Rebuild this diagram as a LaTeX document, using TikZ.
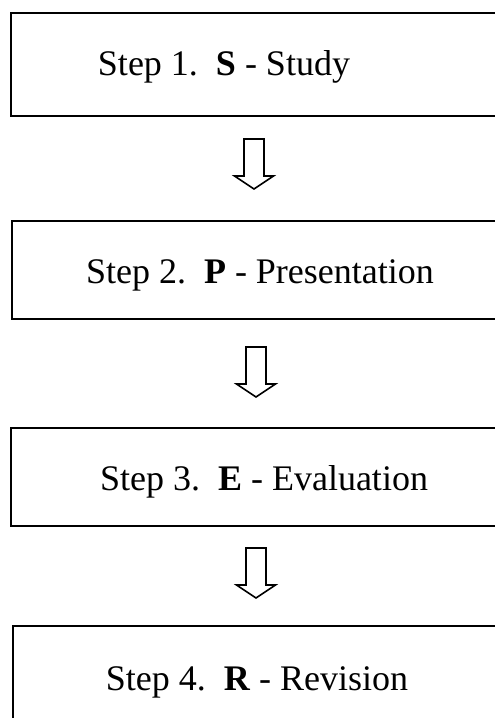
\documentclass[tikz,border=0pt]{standalone}
\usepackage{fontspec}
\setmainfont{Liberation Serif}
\begin{document}
\begin{tikzpicture}[x=1pt,y=-1pt,
  stepbox/.style={draw=black,line width=1.6pt,rectangle,anchor=north west,inner sep=0pt,minimum width=520pt},
  steptext/.style={font=\fontsize{36}{40}\selectfont,inner sep=0pt,anchor=base},
  blockarrow/.style={draw=black,line width=1.6pt,line join=miter}]
\useasboundingbox (0,0) rectangle (495,718);
\clip (0,0) rectangle (495,718);
% boxes
\node[stepbox,minimum height=103pt] (b1) at (10,12) {};
\node[stepbox,minimum height=98pt] (b2) at (11,220) {};
\node[stepbox,minimum height=98pt] (b3) at (10,427) {};
\node[stepbox,minimum height=120pt] (b4) at (12,625) {};
% texts
\node[steptext] (t1) at (224,75) {Step 1.\ \ \textbf{S} - Study};
\node[steptext] (t2) at (260,283) {Step 2.\ \ \textbf{P} - Presentation};
\node[steptext] (t3) at (264,490) {Step 3.\ \ \textbf{E} - Evaluation};
\node[steptext] (t4) at (257,690) {Step 4.\ \ \textbf{R} - Revision};
% arrows
\coordinate (a1) at (254,139);
\coordinate (a2) at (256,347);
\coordinate (a3) at (256,548);
\foreach \a in {a1,a2,a3}{
  \draw[blockarrow,shift={(\a)}] (-10,0) -- (-10,37) -- (-19.5,37) -- (0,50) -- (19.5,37) -- (10,37) -- (10,0) -- cycle;
}
\end{tikzpicture}
\end{document}
